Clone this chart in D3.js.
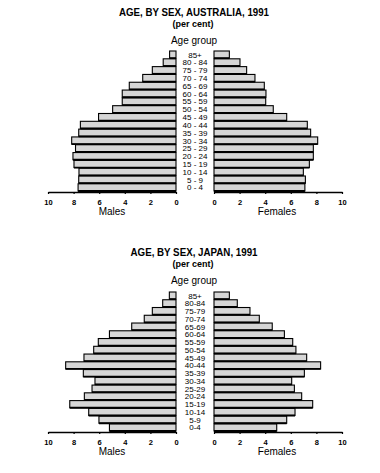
<!DOCTYPE html>
<html>
<head>
<meta charset="utf-8">
<script src="https://cdn.jsdelivr.net/npm/d3@7"></script>
<style>
  html, body { margin: 0; padding: 0; background: #fff; }
  svg { display: block; }
  text { font-family: "Liberation Sans", Arial, sans-serif; fill: #000; }
</style>
</head>
<body>
<svg id="chart" width="380" height="473"></svg>
<script>
// ---- Data (per cent) ----
const ageGroupsAus = ["0 - 4","5 - 9","10 - 14","15 - 19","20 - 24","25 - 29","30 - 34","35 - 39","40 - 44","45 - 49","50 - 54","55 - 59","60 - 64","65 - 69","70 - 74","75 - 79","80 - 84","85+"];
const ageGroupsJpn = ["0-4","5-9","10-14","15-19","20-24","25-29","30-34","35-39","40-44","45-49","50-54","55-59","60-64","65-69","70-74","75-79","80-84","85+"];

const ausMales   = [7.65, 7.6, 7.58, 7.97, 8.05, 7.85, 8.15, 7.6, 7.47, 6.05, 4.95, 4.2, 4.2, 3.65, 2.6, 1.85, 1.0, 0.5];
const ausFemales = [7.1, 7.14, 6.98, 7.45, 7.76, 7.76, 8.1, 7.55, 7.29, 5.68, 4.63, 4.04, 4.06, 3.93, 3.2, 2.55, 2.03, 1.2];

const jpnMales   = [5.2, 6.02, 6.82, 8.3, 7.16, 6.56, 6.33, 7.24, 8.62, 7.19, 6.43, 6.07, 5.2, 3.46, 2.48, 1.85, 1.04, 0.52];
const jpnFemales = [4.9, 5.68, 6.33, 7.71, 6.85, 6.28, 6.07, 7.06, 8.33, 7.24, 6.4, 6.15, 5.5, 4.55, 3.54, 2.81, 1.82, 1.2];

const tickValues = [0, 2, 4, 6, 8, 10];

const titles = ["AGE, BY SEX, AUSTRALIA, 1991", "AGE, BY SEX, JAPAN, 1991"];
const subtitle = "(per cent)";
const ageHeader = "Age group";
const sexLabels = ["Males", "Females"];

// ---- Drawing ----
const svg = d3.select("#chart");

function pyramid(cfg) {
  const g = svg.append("g");
  const cx = 194;

  g.append("text").attr("x", cx).attr("y", cfg.titleY)
    .attr("text-anchor", "middle").attr("font-weight", "bold")
    .attr("font-size", 10.5)
    .attr("textLength", cfg.titleW).attr("lengthAdjust", "spacingAndGlyphs")
    .text(cfg.title);
  g.append("text").attr("x", cx - 1).attr("y", cfg.titleY + 11)
    .attr("text-anchor", "middle").attr("font-weight", "bold")
    .attr("font-size", 8.5)
    .attr("textLength", 41).attr("lengthAdjust", "spacingAndGlyphs")
    .text(subtitle);
  g.append("text").attr("x", cx).attr("y", cfg.titleY + 28)
    .attr("text-anchor", "middle").attr("font-size", 10)
    .text(ageHeader);

  const y = d3.scaleBand()
    .domain(cfg.ages.slice().reverse())
    .range([cfg.top, cfg.bottom])
    .paddingInner(0.08);

  const xM = d3.scaleLinear().domain([0, 10]).range([176, 48]);
  const xF = d3.scaleLinear().domain([0, 10]).range([214, 342]);

  const rowsM = cfg.ages.map((a, i) => ({ age: a, v: cfg.males[i] }));
  const rowsF = cfg.ages.map((a, i) => ({ age: a, v: cfg.females[i] }));

  g.append("g").selectAll("rect").data(rowsM).join("rect")
    .attr("x", d => xM(d.v))
    .attr("y", d => y(d.age))
    .attr("width", d => xM(0) - xM(d.v))
    .attr("height", y.bandwidth())
    .attr("fill", "#d6d6d6").attr("stroke", "#000").attr("stroke-width", 1.1);
  g.append("g").selectAll("line").data(rowsM).join("line")
    .attr("x1", d => xM(d.v)).attr("x2", xM(0))
    .attr("y1", d => y(d.age) + y.bandwidth()).attr("y2", d => y(d.age) + y.bandwidth())
    .attr("stroke", "#000").attr("stroke-width", 1.8);

  g.append("g").selectAll("rect").data(rowsF).join("rect")
    .attr("x", xF(0))
    .attr("y", d => y(d.age))
    .attr("width", d => xF(d.v) - xF(0))
    .attr("height", y.bandwidth())
    .attr("fill", "#d6d6d6").attr("stroke", "#000").attr("stroke-width", 1.1);
  g.append("g").selectAll("line").data(rowsF).join("line")
    .attr("x1", xF(0)).attr("x2", d => xF(d.v))
    .attr("y1", d => y(d.age) + y.bandwidth()).attr("y2", d => y(d.age) + y.bandwidth())
    .attr("stroke", "#000").attr("stroke-width", 1.8);

  g.append("g").selectAll("text").data(cfg.ages).join("text")
    .attr("x", cx + 1)
    .attr("y", d => y(d) + y.bandwidth() / 2 + 3)
    .attr("text-anchor", "middle")
    .attr("font-size", cfg.ageFont)
    .text(d => d);

  const axisY = cfg.bottom + 1;
  const axM = d3.axisBottom(xM).tickValues(tickValues).tickFormat(d3.format("d"))
    .tickSize(2).tickSizeOuter(0).tickPadding(6);
  const axF = d3.axisBottom(xF).tickValues(tickValues).tickFormat(d3.format("d"))
    .tickSize(2).tickSizeOuter(0).tickPadding(6);

  [axM, axF].forEach(ax => {
    const a = g.append("g").attr("transform", `translate(0,${axisY})`).call(ax);
    a.select(".domain").attr("stroke", "#000").attr("stroke-width", 1.4);
    a.selectAll(".tick line").attr("stroke", "#000").attr("stroke-width", 1.2);
    a.selectAll(".tick text").attr("font-size", 7.5).attr("font-weight", "bold")
      .attr("font-family", "Liberation Sans, Arial, sans-serif").attr("fill", "#000");
  });

  g.append("text").attr("x", 112).attr("y", axisY + 23)
    .attr("text-anchor", "middle").attr("font-size", 10).text(sexLabels[0]);
  g.append("text").attr("x", 277).attr("y", axisY + 23)
    .attr("text-anchor", "middle").attr("font-size", 10).text(sexLabels[1]);
}

pyramid({ title: titles[0], titleW: 150, titleY: 15.5, ages: ageGroupsAus,
  males: ausMales, females: ausFemales, top: 51, bottom: 191, ageFont: 8 });
pyramid({ title: titles[1], titleW: 127, titleY: 255.5, ages: ageGroupsJpn,
  males: jpnMales, females: jpnFemales, top: 292, bottom: 431, ageFont: 8 });
</script>
</body>
</html>
